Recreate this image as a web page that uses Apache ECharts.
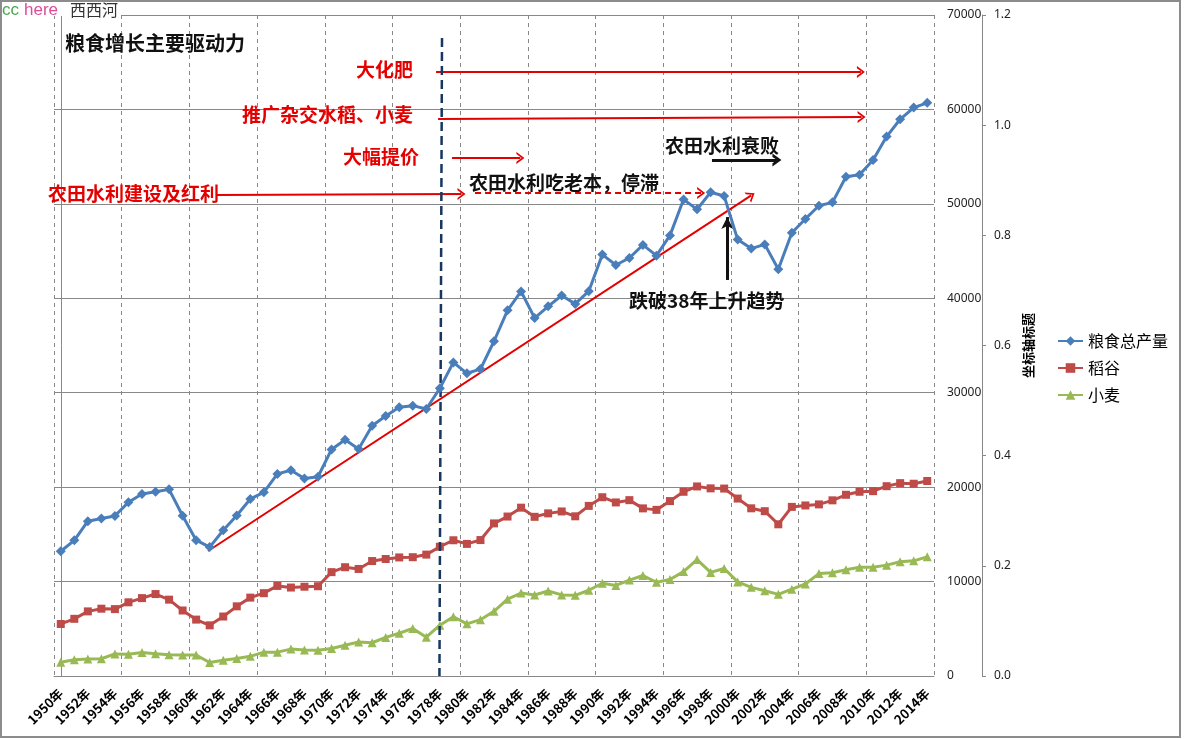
<!DOCTYPE html>
<html>
<head>
<meta charset="utf-8">
<script src="https://cdn.jsdelivr.net/npm/echarts@6/dist/echarts.min.js"></script>
<style>
html,body{margin:0;padding:0;background:#fff;}
#main{width:1184px;height:739px;}
</style>
</head>
<body>
<div id="main"></div>
<script>
// ---- data ----
const years = [];
for (let y = 1950; y <= 2014; y++) years.push(y + '年');

const grainTotal = [13213,14369,16392,16683,16952,18394,19275,19505,19765,16968,
  14385,13650,15441,17000,18750,19453,21400,21782,20906,21097,
  23996,25014,24048,26494,27527,28452,28631,28273,30477,33212,
  32056,32502,35450,38728,40731,37911,39151,40298,39408,40755,
  44624,43529,44266,45649,44510,46662,50454,49417,51230,50839,
  46218,45264,45706,43070,46947,48402,49804,50160,52871,53082,
  54648,57121,58958,60194,60703];

const rice = [5510,6056,6843,7127,7085,7803,8248,8678,8085,6937,
  5973,5364,6299,7377,8300,8772,9539,9369,9453,9507,
  10999,11521,11336,12174,12391,12556,12581,12857,13693,14375,
  13991,14396,16160,16887,17826,16857,17222,17426,16911,18013,
  18933,18381,18622,17751,17593,18523,19510,20074,19871,19849,
  18791,17758,17454,16066,17909,18059,18172,18603,19190,19510,
  19576,20100,20424,20361,20651];

const wheat = [1450,1723,1813,1828,2334,2297,2480,2364,2259,2218,
  2217,1425,1667,1848,2084,2522,2528,2848,2746,2729,
  2919,3258,3599,3523,4087,4531,5039,4108,5384,6273,
  5521,5964,6847,8139,8782,8581,9004,8590,8543,9081,
  9823,9595,10159,10639,9930,10221,11057,12329,10973,11388,
  9964,9387,9029,8649,9195,9745,10847,10930,11246,11512,
  11518,11740,12102,12193,12621];

const seriesNames = ['粮食总产量', '稻谷', '小麦'];
const leftTicks = [0, 70000, 10000];
const rightTicks = [0, 1.2, 0.2];

// annotation arrows in data units (x = year index, y = value on left scale)
const RED = '#E50000', BLACK = '#111111', NAVY = '#17375E';
const CHEV = 'path://M0,10 L5,0 L10,10 L8.2,10 L5,3.4 L1.8,10 Z';
const CHEV_B = 'path://M0,10 L5,0 L10,10 L7.4,10 L5,4.8 L2.6,10 Z';
const annArrows = [
  {from:[27.72,63960], to:[59.1,63960], color:RED, width:2, type:'solid', head:CHEV, size:[12,8]},
  {from:[27.87,58990], to:[59.15,59200], color:RED, width:2, type:'solid', head:CHEV, size:[12,8]},
  {from:[28.9,54860], to:[33.95,54860], color:RED, width:2, type:'solid', head:CHEV, size:[12,8]},
  {from:[11.47,50940], to:[29.6,51040], color:RED, width:2, type:'solid', head:CHEV, size:[12,8]},
  {from:[30.6,51150], to:[47.3,51150], color:RED, width:2, type:[6,4], head:CHEV, size:[12,8]},
  {from:[48.1,54640], to:[52.9,54640], color:BLACK, width:3, type:'solid', head:CHEV_B, size:[13,9]},
  {from:[10.88,13240], to:[51.0,50900], color:RED, width:2, type:'solid', head:CHEV, size:[12,8]},
  {from:[49.23,41940], to:[49.23,48600], color:BLACK, width:3, type:'solid', head:'arrow', size:[9,12]},
  {from:[28.16,67560], to:[27.97,0], color:NAVY, width:2.5, type:[9,5], head:'none', size:1}
];

const annTexts = [
  {t:'粮食增长主要驱动力', x:65, y:43, c:'#111', s:20, a:'left'},
  {t:'大化肥', x:413, y:70, c:RED, s:19, a:'right'},
  {t:'推广杂交水稻、小麦', x:413, y:115, c:RED, s:19, a:'right'},
  {t:'大幅提价', x:419, y:157, c:RED, s:19, a:'right'},
  {t:'农田水利建设及红利', x:48, y:194, c:RED, s:19, a:'left'},
  {t:'农田水利吃老本，停滞', x:469, y:183, c:'#111', s:19, a:'left'},
  {t:'农田水利衰败', x:665, y:146, c:'#111', s:19, a:'left'},
  {t:'跌破38年上升趋势', x:629, y:301, c:'#111', s:19, a:'left'}
];

const FONT = '"Noto Sans CJK SC", "Noto Sans", sans-serif';
const chart = echarts.init(document.getElementById('main'), null, {renderer:'canvas'});

const graphics = [
  {type:'rect', shape:{x:1, y:1, width:1179, height:736}, style:{fill:null, stroke:'#8c8c8c', lineWidth:2}, z:100, silent:true},
  {type:'rect', shape:{x:2, y:2, width:119, height:14}, style:{fill:'#fff'}, z:90, silent:true},
  {type:'text', x:2, y:10, z:91, silent:true,
   style:{text:'cc', fill:'#4CA64C', fontSize:17, fontFamily:'"Liberation Sans", Arial, sans-serif', verticalAlign:'middle', textVerticalAlign:'middle'}},
  {type:'text', x:24, y:10, z:91, silent:true,
   style:{text:'here', fill:'#DC4C98', fontSize:17, fontFamily:'"Liberation Sans", Arial, sans-serif', verticalAlign:'middle', textVerticalAlign:'middle'}},
  {type:'text', x:70, y:10, z:91, silent:true,
   style:{text:'西西河', fill:'#333', fontSize:16, fontFamily:'"Noto Sans CJK SC", sans-serif', verticalAlign:'middle', textVerticalAlign:'middle'}}
];
annTexts.forEach(o => graphics.push({
  type:'text', x:o.x, y:o.y, z:50, silent:true,
  style:{text:o.t, fill:o.c, fontSize:o.s, fontWeight:'bold', fontFamily:FONT,
    align:o.a, textAlign:o.a, verticalAlign:'middle', textVerticalAlign:'middle'}
}));

const series = [
  {name:seriesNames[0], type:'line', data:grainTotal, symbol:'diamond', symbolSize:10, showAllSymbol:true,
   lineStyle:{color:'#4A7EBB', width:3}, itemStyle:{color:'#4A7EBB'}, z:5},
  {name:seriesNames[1], type:'line', data:rice, symbol:'rect', symbolSize:8, showAllSymbol:true,
   lineStyle:{color:'#BE4B48', width:3}, itemStyle:{color:'#BE4B48'}, z:4},
  {name:seriesNames[2], type:'line', data:wheat, symbol:'triangle', symbolSize:9, showAllSymbol:true,
   lineStyle:{color:'#98B954', width:3}, itemStyle:{color:'#98B954'}, z:3}
];
annArrows.forEach((a, i) => series.push({
  name:'_ann' + i, type:'line', xAxisIndex:1, yAxisIndex:0, data:[], silent:true, z:6,
  markLine:{
    silent:true, animation:false, symbol:['none', a.head], symbolSize:a.size,
    lineStyle:{color:a.color, width:a.width, type:a.type},
    itemStyle:{color:a.color},
    label:{show:false}, emphasis:{disabled:true},
    data:[[{coord:a.from}, {coord:a.to}]]
  }
}));

chart.setOption({
  animation:false,
  backgroundColor:'#fff',
  textStyle:{fontFamily:FONT},
  grid:{left:54, right:250, top:15, bottom:63, containLabel:false},
  legend:{
    data:seriesNames, orient:'vertical', left:1057, top:333,
    itemWidth:25, itemHeight:12, itemGap:11, padding:0,
    textStyle:{fontSize:16, color:'#000', fontFamily:FONT}
  },
  xAxis:[
    {type:'category', data:years, boundaryGap:true,
     axisLine:{lineStyle:{color:'#888', width:1}},
     axisTick:{show:false},
     axisLabel:{interval:1, rotate:45, fontSize:13, fontWeight:'bold', color:'#000', margin:15, fontFamily:FONT},
     splitLine:{show:true, interval:4, lineStyle:{color:'#888', width:1, type:[4,4]}}
    },
    {type:'value', min:-0.5, max:64.5, show:false, splitLine:{show:false}}
  ],
  yAxis:[
    {type:'value', position:'right', min:leftTicks[0], max:leftTicks[1], interval:leftTicks[2],
     axisLine:{show:true, lineStyle:{color:'#888', width:1}},
     axisTick:{show:false},
     axisLabel:{margin:13, fontSize:12, color:'#222', fontFamily:'"Noto Sans", sans-serif',
       formatter:v => String(v)},
     splitLine:{show:true, lineStyle:{color:'#888', width:1}}
    },
    {type:'value', position:'right', offset:48, min:rightTicks[0], max:rightTicks[1], interval:rightTicks[2],
     axisLine:{show:true, lineStyle:{color:'#888', width:1}},
     axisTick:{show:true, inside:false, length:4, lineStyle:{color:'#888'}},
     axisLabel:{margin:12, fontSize:12, color:'#222', fontFamily:'"Noto Sans", sans-serif',
       formatter:v => v.toFixed(1)},
     splitLine:{show:false},
     name:'坐标轴标题', nameLocation:'middle', nameGap:40, nameRotate:90,
     nameTextStyle:{fontSize:13, fontWeight:'bold', color:'#000', fontFamily:FONT}
    }
  ],
  graphic:graphics,
  series:series
});
</script>
</body>
</html>
